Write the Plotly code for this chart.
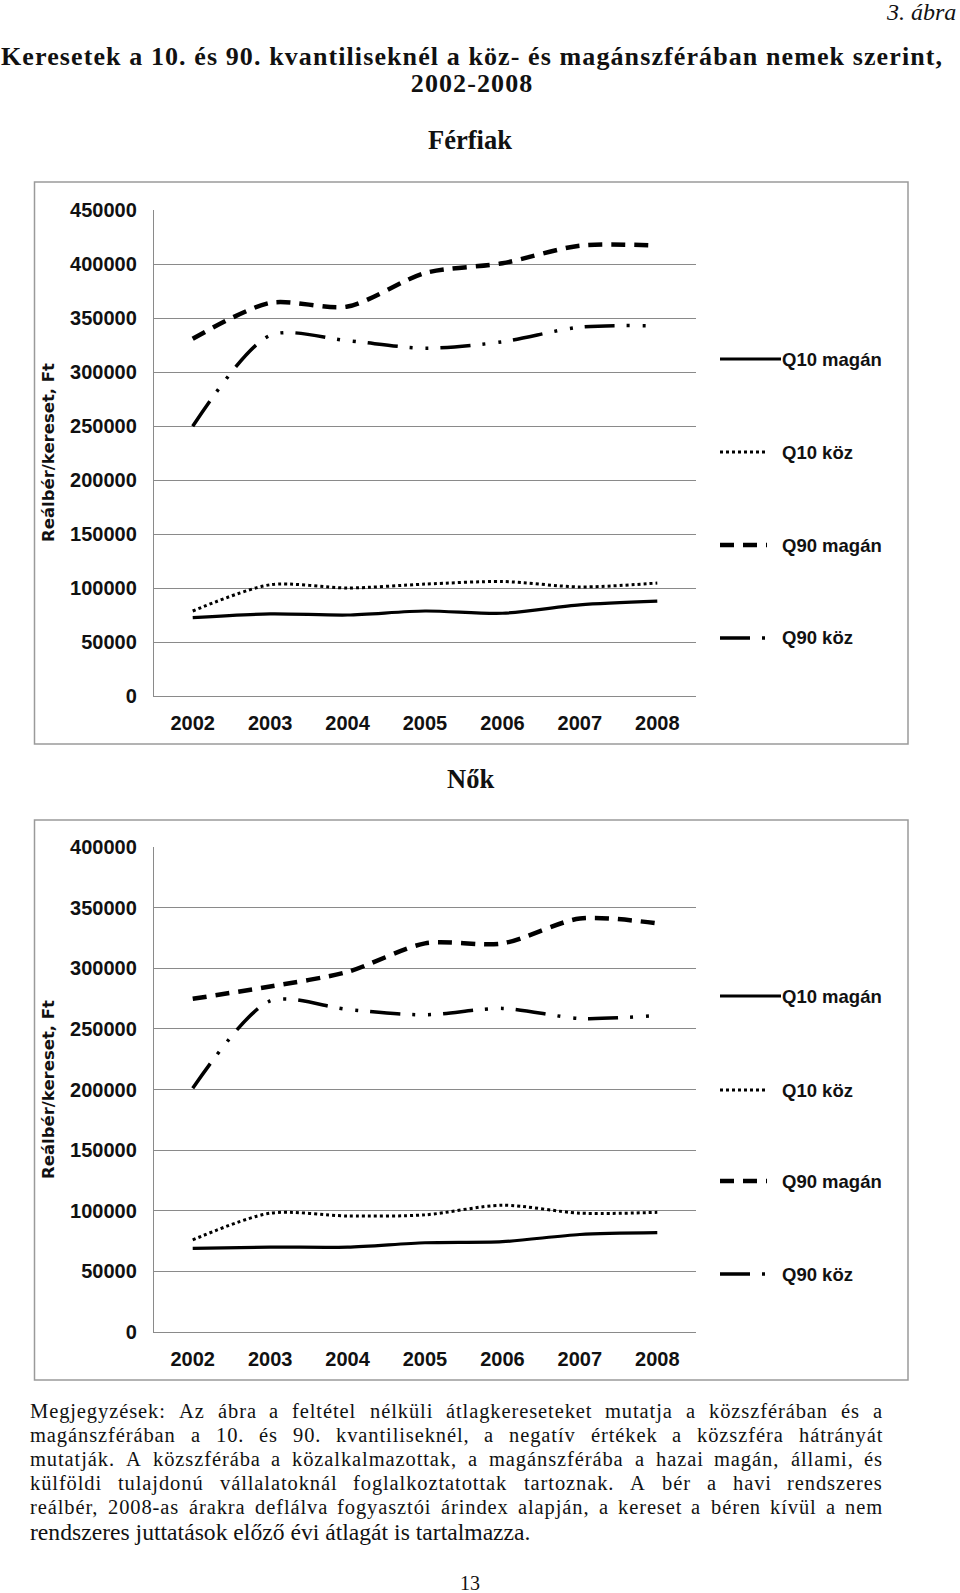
import unicodedata
import plotly.graph_objects as go

W, H = 960, 1593

years = ["2002", "2003", "2004", "2005", "2006", "2007", "2008"]
series_names = ["Q10 magán", "Q10 köz", "Q90 magán", "Q90 köz"]

# Férfiak (men)
men_q10_magan = [72600, 76000, 75000, 78700, 76600, 84400, 87800]
men_q10_koz = [78700, 103000, 100000, 103600, 106000, 101000, 104600]
men_q90_magan = [330800, 364000, 360600, 391600, 400700, 417000, 417000]
men_q90_koz = [249800, 334000, 329000, 322000, 328000, 341600, 342700]

# Nők (women)
women_q10_magan = [69000, 70000, 70000, 73600, 74500, 80400, 81900]
women_q10_koz = [76000, 98000, 95700, 96600, 104600, 98000, 98700]
women_q90_magan = [274800, 285000, 297000, 320500, 320500, 341000, 337000]
women_q90_koz = [201000, 273000, 266000, 261600, 266900, 258600, 261000]

men_ticks = [0, 50000, 100000, 150000, 200000, 250000, 300000, 350000, 400000, 450000]
women_ticks = [0, 50000, 100000, 150000, 200000, 250000, 300000, 350000, 400000]

title_lines = [
    "Keresetek a 10. és 90. kvantiliseknél a köz- és magánszférában nemek szerint,",
    "2002-2008",
]

notes = [
    "Megjegyzések: Az ábra a feltétel nélküli átlagkereseteket mutatja a közszférában és a",
    "magánszférában a 10. és 90. kvantiliseknél, a negatív értékek a közszféra hátrányát",
    "mutatják. A közszférába a közalkalmazottak, a magánszférába a hazai magán, állami, és",
    "külföldi tulajdonú vállalatoknál foglalkoztatottak tartoznak. A bér a havi rendszeres",
    "reálbér, 2008-as árakra deflálva fogyasztói árindex alapján, a kereset a béren kívül a nem",
    "rendszeres juttatások előző évi átlagát is tartalmazza.",
]

styles = [
    dict(color="black", width=3.2, dash="solid"),
    dict(color="black", width=3.0, dash="3px,3px"),
    dict(color="black", width=4.5, dash="14px,9px"),
    dict(color="black", width=3.5, dash="30px,12px,3px,13px,3px,12px"),
]

def fx(px):
    return px / W

def fy(px):
    return 1 - px / H

# approximate Times (Liberation Serif) advance widths, per 1000 em
TIMES = {
    **{c: w for c, w in zip("abcdefghijklmnopqrstuvwxyz",
       [444, 500, 444, 500, 444, 333, 500, 500, 278, 278, 500, 278, 778, 500, 500, 500,
        500, 333, 389, 278, 500, 500, 722, 500, 500, 444])},
    **{c: w for c, w in zip("ABCDEFGHIJKLMNOPQRSTUVWXYZ",
       [722, 667, 667, 722, 611, 556, 722, 722, 333, 389, 722, 611, 889, 722, 722, 556,
        722, 667, 556, 611, 722, 722, 944, 722, 722, 611])},
    **{d: 500 for d in "0123456789"},
    ".": 250, ",": 250, ":": 278, ";": 278, "-": 333, " ": 250, "(": 333, ")": 333,
}

def text_width(s, size, ls=0.0):
    tot = 0
    for ch in s:
        base = unicodedata.normalize("NFD", ch)[0]
        tot += TIMES.get(base, 500)
    return tot / 1000 * size + ls * len(s)

fig = go.Figure()

men = [men_q10_magan, men_q10_koz, men_q90_magan, men_q90_koz]
women = [women_q10_magan, women_q10_koz, women_q90_magan, women_q90_koz]

for name, vals, st in zip(series_names, men, styles):
    fig.add_trace(go.Scatter(x=years, y=vals, name=name, mode="lines",
                             line=dict(shape="spline", smoothing=0.8, **st),
                             xaxis="x", yaxis="y", showlegend=False))
for name, vals, st in zip(series_names, women, styles):
    fig.add_trace(go.Scatter(x=years, y=vals, name=name, mode="lines",
                             line=dict(shape="spline", smoothing=0.8, **st),
                             xaxis="x2", yaxis="y2", showlegend=False))

TICKFONT = dict(family="Liberation Sans, Arial", size=20, color="#111", weight="bold")
GRID = "#8a8a8a"

plot_x = [fx(154), fx(696)]
top_y = [fy(696), fy(210)]
bot_y = [fy(1332), fy(847)]

common_x = dict(type="category", range=[-0.5, 6.5], showgrid=False, zeroline=False,
                showline=True, linecolor=GRID, linewidth=1.3, ticks="outside", ticklen=4,
                tickcolor="rgba(0,0,0,0)", tickfont=TICKFONT, ticklabelstandoff=5,
                automargin=False)
common_y = dict(showgrid=True, gridcolor=GRID, gridwidth=1.3, zeroline=False,
                showline=True, linecolor=GRID, linewidth=1.3, ticks="",
                tickfont=TICKFONT, tickformat="d", ticklabelstandoff=12, automargin=False)

fig.update_layout(
    width=W, height=H,
    margin=dict(l=0, r=0, t=0, b=0, pad=0, autoexpand=False),
    paper_bgcolor="white", plot_bgcolor="white",
    xaxis=dict(domain=plot_x, anchor="y", **common_x),
    yaxis=dict(domain=top_y, anchor="x", range=[0, 450000], tickvals=men_ticks, **common_y),
    xaxis2=dict(domain=plot_x, anchor="y2", **common_x),
    yaxis2=dict(domain=bot_y, anchor="x2", range=[0, 400000], tickvals=women_ticks, **common_y),
)

shapes = []
annotations = []

# chart boxes
for (x0, y0, x1, y1) in [(34.5, 182, 908, 744), (34.5, 820, 908, 1380)]:
    shapes.append(dict(type="rect", xref="paper", yref="paper", x0=fx(x0), x1=fx(x1),
                       y0=fy(y1), y1=fy(y0), line=dict(color="#9a9a9a", width=1.5),
                       layer="below"))

# legends
leg_ys = [[359, 452, 545, 638], [996, 1090, 1181, 1274]]
leg_ends = [781, 767, 767, 767]
for ys in leg_ys:
    for name, st, yy, xe in zip(series_names, styles, ys, leg_ends):
        shapes.append(dict(type="line", xref="paper", yref="paper",
                           x0=fx(720), x1=fx(xe), y0=fy(yy), y1=fy(yy),
                           line=dict(color=st["color"], width=st["width"], dash=st["dash"])))
        annotations.append(dict(xref="paper", yref="paper", x=fx(780), y=fy(yy),
                                text=name, showarrow=False, xanchor="left", yanchor="middle",
                                font=dict(family="Liberation Sans, Arial", size=18.5,
                                          color="#111", weight="bold")))

# y axis titles
for yc in [453, 1090]:
    annotations.append(dict(xref="paper", yref="paper", x=fx(48), y=fy(yc),
                            text="Reálbér/kereset, Ft", textangle=-90, showarrow=False,
                            xanchor="center", yanchor="middle",
                            font=dict(family="DejaVu Sans, Verdana", size=16.5, color="#111",
                                      weight="bold")))

serif = "Liberation Serif, Times New Roman"
title_html = "<br>".join(
    '<span style="font-size:26px;letter-spacing:1.1px">%s</span>' % t for t in title_lines)
annotations += [
    dict(xref="paper", yref="paper", x=fx(958), y=fy(12), text="<i>3. ábra</i>",
         showarrow=False, xanchor="right", yanchor="middle",
         font=dict(family=serif, size=24, color="#111")),
    dict(xref="paper", yref="paper", x=fx(472), y=fy(69.5),
         text="<b>%s</b>" % title_html,
         showarrow=False, xanchor="center", yanchor="middle", align="center",
         font=dict(family=serif, size=20.8, color="#111")),
    dict(xref="paper", yref="paper", x=fx(470), y=fy(140), text="<b>Férfiak</b>",
         showarrow=False, xanchor="center", yanchor="middle",
         font=dict(family=serif, size=26.5, color="#111")),
    dict(xref="paper", yref="paper", x=fx(470), y=fy(779), text="<b>Nők</b>",
         showarrow=False, xanchor="center", yanchor="middle",
         font=dict(family=serif, size=26.5, color="#111")),
    dict(xref="paper", yref="paper", x=fx(470), y=fy(1583), text="13",
         showarrow=False, xanchor="center", yanchor="middle",
         font=dict(family=serif, size=20, color="#111")),
]

# justified notes paragraph: words placed individually
NOTE_SIZE = 20.5
NOTE_LS = 0.9
left, right = 30, 883
note_ys = [1411, 1435, 1459, 1483, 1507, 1532]
for i, (t, yy) in enumerate(zip(notes, note_ys)):
    if i < len(notes) - 1:
        words = t.split(" ")
        widths = [text_width(w, NOTE_SIZE, NOTE_LS) for w in words]
        gap = (right - left - sum(widths)) / (len(words) - 1)
        x = left
        for w, wd in zip(words, widths):
            annotations.append(dict(
                xref="paper", yref="paper", x=fx(x), y=fy(yy),
                text='<span style="letter-spacing:%.2fpx">%s</span>' % (NOTE_LS, w),
                showarrow=False, xanchor="left", yanchor="middle",
                borderpad=0, borderwidth=0,
                font=dict(family=serif, size=NOTE_SIZE, color="#111")))
            x += wd + gap
    else:
        size = 501 / text_width(t, 1)
        annotations.append(dict(xref="paper", yref="paper", x=fx(left), y=fy(yy), text=t,
                                showarrow=False, xanchor="left", yanchor="middle",
                                borderpad=0, borderwidth=0,
                                font=dict(family=serif, size=size, color="#111")))

fig.update_layout(shapes=shapes, annotations=annotations)
fig.write_html("out.html", config={"displayModeBar": False},
               post_script="document.body.style.margin='0px';")
